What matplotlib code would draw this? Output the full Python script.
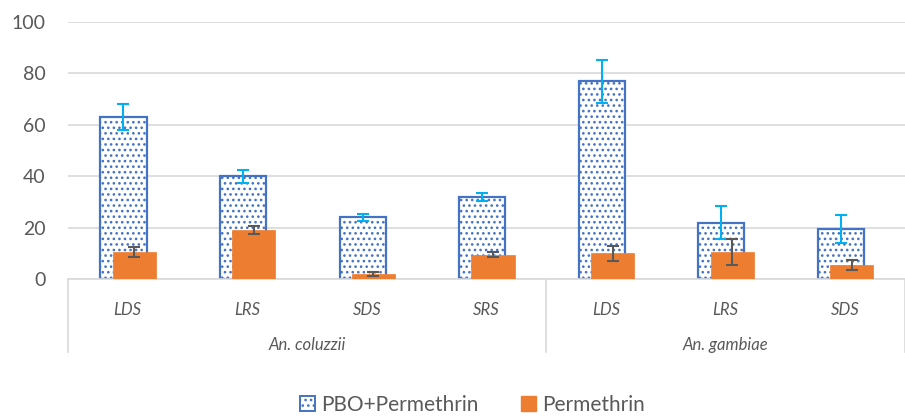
import matplotlib.pyplot as plt
import matplotlib.transforms as mtransforms
from matplotlib.patches import Patch
import numpy as np

plt.rcParams['font.family'] = ['Lato', 'DejaVu Sans']
plt.rcParams['hatch.linewidth'] = 1.1

# data
sites = ["LDS", "LRS", "SDS", "SRS", "LDS", "LRS", "SDS"]
species = ["An. coluzzii", "An. gambiae"]
species_n = [4, 3]
pbo = [63, 40, 24, 32, 77, 22, 19.5]
pbo_err = [5, 2.5, 1.5, 1.5, 8.3, 6.3, 5.6]
perm = [10.5, 19, 2, 9.5, 10, 10.5, 5.4]
perm_err = [2, 1.5, 0.8, 1, 3, 5, 2]

blue = '#4472C4'
orange = '#ED7D31'
grey = '#595959'

x = np.arange(len(sites))

fig = plt.figure(figsize=(9.05, 4.16), dpi=100)
ax = fig.add_axes([0.075, 0.329, 0.925, 0.618])

ax.bar(x - 0.035, pbo, width=0.385, color='white', edgecolor=blue,
       hatch='...', linewidth=1.6, zorder=2)
ax.errorbar(x - 0.035, pbo, yerr=pbo_err, fmt='none', ecolor='#00B0F0',
            elinewidth=1.5, capsize=4, capthick=1.5, zorder=4)
ax.bar(x + 0.055, perm, width=0.36, color=orange, edgecolor=orange,
       linewidth=0.5, zorder=3)
ax.errorbar(x + 0.055, perm, yerr=perm_err, fmt='none', ecolor=grey,
            elinewidth=1.5, capsize=4, capthick=1.5, zorder=5)

ax.set_xlim(-0.5, 6.5)
ax.set_ylim(0, 100)
ax.set_yticks(range(0, 101, 20))
ax.yaxis.grid(True, color='#D9D9D9', linewidth=1.2, zorder=0)
ax.set_axisbelow(True)
for s in ['top', 'right', 'left']:
    ax.spines[s].set_visible(False)
ax.spines['bottom'].set_color('#D9D9D9')
ax.spines['bottom'].set_linewidth(1.2)
ax.tick_params(axis='y', length=0, labelsize=14, labelcolor=grey, pad=16)
ax.set_xticks([])

# two-level category axis
trans = mtransforms.blended_transform_factory(ax.transData, ax.transAxes)
for i, s in enumerate(sites):
    ax.text(i, -0.12, s, transform=trans, ha='center', va='center',
            fontsize=12, style='italic', color=grey)
start = 0
bounds = [-0.5]
for name, n in zip(species, species_n):
    ax.text(start + (n - 1) / 2, -0.257, name, transform=trans, ha='center',
            va='center', fontsize=12, style='italic', color=grey)
    start += n
    bounds.append(start - 0.5)
for b in bounds:
    ax.plot([b, b], [0, -0.285], transform=trans, color='#D9D9D9',
            linewidth=1.2, clip_on=False)

handles = [Patch(facecolor='white', edgecolor=blue, hatch='...', linewidth=1.4,
                 label='PBO+Permethrin'),
           Patch(facecolor=orange, edgecolor=orange, label='Permethrin')]
fig.legend(handles=handles, loc='center', bbox_to_anchor=(0.522, 0.027),
           ncol=2, frameon=False, fontsize=15, handlelength=0.75,
           handleheight=0.75, columnspacing=2.0, handletextpad=0.3,
           labelcolor=grey)

fig.savefig('out.png', dpi=100)
